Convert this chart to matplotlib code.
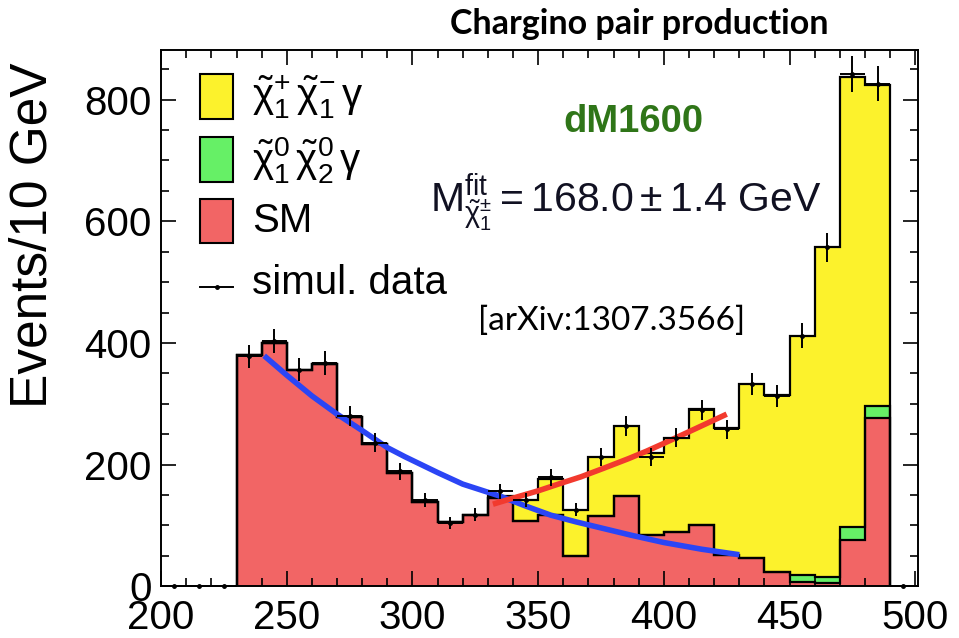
import numpy as np
import matplotlib.pyplot as plt
from matplotlib.ticker import MultipleLocator
from matplotlib.patches import Rectangle

plt.rcParams['font.family'] = ['Liberation Sans', 'DejaVu Sans']
plt.rcParams['mathtext.fontset'] = 'custom'
plt.rcParams['mathtext.rm'] = 'Liberation Sans'
plt.rcParams['mathtext.it'] = 'Liberation Sans:italic'
plt.rcParams['mathtext.bf'] = 'Liberation Sans:bold'

# bin edges 230..490 GeV, 10 GeV bins
edges = np.arange(230, 491, 10)

# stacked MC contributions (events / 10 GeV)
sm = [381, 400, 356, 365, 278, 234, 187, 138, 105, 118, 145, 107, 118,
      50, 116, 148, 85, 89, 100, 52, 46, 24, 7, 6, 76, 276]
neutralino = [0, 0, 0, 0, 0, 0, 0, 0, 0, 0, 0, 0, 0,
              0, 0, 0, 0, 0, 0, 0, 0, 0, 11, 10, 21, 21]
chargino = [0, 0, 0, 0, 0, 0, 0, 0, 0, 0, 3, 35, 58,
            76, 96, 115, 134, 155, 191, 208, 287, 290, 394, 541, 741, 527]

# simulated data points (bin centres 205..495)
data_x = np.arange(205, 500, 10)
data_y = [0, 0, 0, 378, 403, 356, 367, 280, 236, 189, 142, 104, 118, 156, 142,
          179, 126, 213, 263, 213, 244, 290, 258, 333, 313, 412, 557, 842, 826, 0]

# fit curves
bkg_fit_x = [241, 250, 260, 270, 280, 290, 297, 310, 320, 335, 345, 355, 365,
             375, 387, 400, 415, 430]
bkg_fit_y = [379, 347, 313, 283, 256, 228, 213, 187, 168, 148, 132, 117, 106,
             96, 84, 72, 61, 52]
sig_fit_x = [332, 340, 350, 358, 367, 376, 386, 393, 400, 412, 425]
sig_fit_y = [135, 145, 157, 168, 180, 194, 210, 222, 235, 258, 283]

c_yellow = '#fcf22c'
c_green = '#66f066'
c_red = '#f26565'

fig = plt.figure(figsize=(9.59, 6.38), dpi=100)
ax = fig.add_axes([0.168, 0.081, 0.789, 0.841])

sm = np.array(sm)
lvl1 = sm
lvl2 = lvl1 + np.array(neutralino)
lvl3 = lvl2 + np.array(chargino)

ax.stairs(lvl3, edges, baseline=lvl2, fill=True, color=c_yellow, lw=0)
ax.stairs(lvl2, edges, baseline=lvl1, fill=True, color=c_green, lw=0)
ax.stairs(lvl1, edges, baseline=0, fill=True, color=c_red, lw=0)
for lvl in (lvl3, lvl2, lvl1):
    ax.stairs(lvl, edges, baseline=0, color='black', lw=1.6)

ax.plot(bkg_fit_x, bkg_fit_y, color='#2b45f5', lw=4, solid_capstyle='butt')
ax.plot(sig_fit_x, sig_fit_y, color='#f23a2e', lw=4, solid_capstyle='butt')

data_y = np.array(data_y)
ax.errorbar(data_x, data_y, yerr=np.sqrt(data_y), xerr=5, fmt='o', ms=2.5,
            color='black', lw=1.4, capsize=0, zorder=5, clip_on=False)

ax.set_xlim(200, 501)
ax.set_ylim(0, 882)
ax.xaxis.set_major_locator(MultipleLocator(50))
ax.xaxis.set_minor_locator(MultipleLocator(10))
ax.yaxis.set_major_locator(MultipleLocator(200))
ax.yaxis.set_minor_locator(MultipleLocator(50))
ax.tick_params(which='both', direction='in', top=True, right=True, width=1.2)
ax.tick_params(which='major', length=11, labelsize=29, pad=7)
ax.tick_params(axis='x', which='major', pad=9)
ax.tick_params(which='minor', length=6)
for s in ax.spines.values():
    s.set_linewidth(1.4)

fig.text(0.034, 0.632, 'Events/10 GeV', rotation=90, ha='center', va='center',
         fontsize=37)

# legend drawn by hand
leg_colors = [c_yellow, c_green, c_red]
leg_labels = [r'$\tilde{\mathrm{\chi}}^{+}_{1}\,\tilde{\mathrm{\chi}}^{-}_{1}\,\mathrm{\gamma}$',
              r'$\tilde{\mathrm{\chi}}^{0}_{1}\,\tilde{\mathrm{\chi}}^{0}_{2}\,\mathrm{\gamma}$',
              'SM']
leg_ys = [0.912, 0.795, 0.680]
for col, lab, yy in zip(leg_colors, leg_labels, leg_ys):
    ax.add_patch(Rectangle((0.052, yy - 0.041), 0.043, 0.083, transform=ax.transAxes,
                           facecolor=col, edgecolor='black', lw=1.5, clip_on=False))
    ax.text(0.12, yy, lab, transform=ax.transAxes, fontsize=29, va='center', ha='left')
ax.plot([0.052, 0.095], [0.558, 0.558], transform=ax.transAxes, color='black', lw=1.4)
ax.plot([0.0735], [0.558], 'o', ms=2.5, color='black', transform=ax.transAxes)
ax.text(0.12, 0.565, 'simul. data', transform=ax.transAxes, fontsize=29,
        va='center', ha='left')

ax.text(0.624, 0.865, 'dM1600', transform=ax.transAxes, fontsize=27.5,
        fontweight='bold', color='#2f7518', ha='center', va='center')
ax.text(0.355, 0.715, r'$\mathrm{M}^{\mathrm{fit}}_{\tilde{\mathrm{\chi}}^{\pm}_{1}} = 168.0 \pm 1.4\ \mathrm{GeV}$',
        transform=ax.transAxes, fontsize=29.5, color='#111122', ha='left', va='center')

fig.text(0.667, 0.962, 'Chargino pair production', fontsize=24.5, fontweight='bold',
         family='Lato', ha='center', va='center')
fig.text(0.638, 0.497, '[arXiv:1307.3566]', fontsize=24, family='Lato',
         ha='center', va='center')

fig.savefig('out.png', dpi=100)
